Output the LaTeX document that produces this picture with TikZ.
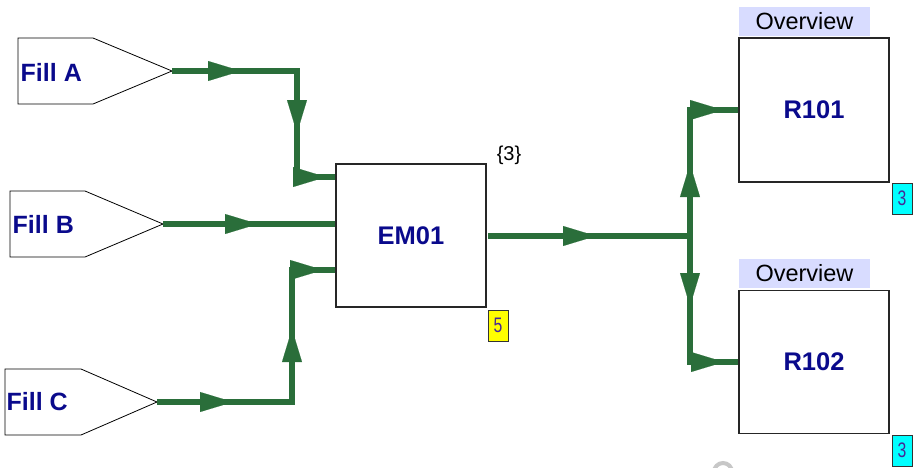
\documentclass[tikz,border=0pt]{standalone}
\usepackage{fontspec}
\setmainfont{Liberation Sans}
\newfontfamily\narrowfont[FakeStretch=0.75]{Liberation Sans}
\usetikzlibrary{arrows.meta,decorations.markings}
\definecolor{flowgreen}{RGB}{42,110,58}
\definecolor{navytext}{RGB}{10,10,140}
\definecolor{lav}{RGB}{216,220,255}
\definecolor{tagtext}{RGB}{70,40,150}
\definecolor{tagcyan}{RGB}{0,255,255}
\definecolor{tagyellow}{RGB}{255,255,0}
\begin{document}
\begin{tikzpicture}[x=1pt,y=-1pt,
  flow/.style={draw=flowgreen, line width=6.5pt, line join=miter},
  am/.style={postaction={decorate,decoration={markings,mark=at position #1 with {\arrow[flowgreen]{Triangle[length=33pt,width=20pt,line width=0.1pt]}}}}},
  penta/.style={draw=black, line width=0.8pt, fill=white},
  filltext/.style={anchor=west, inner sep=0pt, text=navytext, font=\bfseries\fontsize{25}{25}\selectfont},
  box/.style={draw=black!85, line width=1.2pt, fill=white, minimum width=150pt, minimum height=143pt, inner sep=0pt, text=navytext, font=\bfseries\fontsize{25.5}{26}\selectfont},
  ovl/.style={fill=lav, minimum width=131pt, minimum height=29pt, inner sep=0pt, font=\fontsize{23.5}{24}\selectfont},
  tag/.style={draw=black!80, line width=0.8pt, minimum width=20pt, minimum height=31pt, inner sep=0pt, text=tagtext, font=\narrowfont\fontsize{21}{21}\selectfont}
]
\useasboundingbox (0,0) rectangle (913,467);

% source shapes
\coordinate (fa) at (172,71);
\coordinate (fb) at (163,224);
\coordinate (fc) at (157,402);
\draw[penta] (18,38) -- (93,38) -- (fa) -- (93,104) -- (18,104) -- cycle;
\draw[penta] (10,191) -- (85,191) -- (fb) -- (85,257) -- (10,257) -- cycle;
\draw[penta] (5,369) -- (81,369) -- (fc) -- (81,435) -- (5,435) -- cycle;
\node[filltext] (ta) at (20.5,72) {Fill A};
\node[filltext] (tb) at (12.5,224) {Fill B};
\node[filltext] (tc) at (6.5,402) {Fill C};

% boxes
\node[box] (em) at (411,235.5) {EM01};
\node[box, minimum height=144pt] (r1) at (814,110) {R101};
\node[box] (r2) at (814,362) {R102};

\node[ovl] (o1) at (804.5,21.5) {Overview};
\node[ovl] (o2) at (804.5,273.5) {Overview};

\node[font=\fontsize{20}{20}\selectfont, inner sep=0pt] (n3) at (509,155) {\{3\}};
\node[tag, fill=tagyellow] (t5) at (498,325.5) {5};
\node[tag, fill=tagcyan] (t3a) at (902,198.5) {3};
\node[tag, fill=tagcyan] (t3b) at (902,450.5) {3};

% connectors
\coordinate (a1) at (297,71);
\coordinate (a2) at (297,177);
\draw[flow, am=69pt, am=187pt, am=260pt] (fa) -- (a1) -- (a2) -- (a2 -| em.west);

\draw[flow, am=95pt] (fb) -- (fb -| em.west);

\coordinate (c1) at (292,402);
\coordinate (c2) at (292,270);
\draw[flow, am=76pt, am=208pt, am=298pt] (fc) -- (c1) -- (c2) -- (c2 -| em.west);

\coordinate (j) at (690,236);
\coordinate (e0) at (488,236);
\draw[flow, am=108pt] (e0) -- (j);
\draw[flow, am=72pt, am=159pt] (j) |- (r1.west);
\draw[flow, am=70pt, am=160pt] (j) |- (r2.west);

% partial grey mark at bottom edge
\draw[black!22, line width=4pt] (723,472) circle (9pt);
\end{tikzpicture}
\end{document}
